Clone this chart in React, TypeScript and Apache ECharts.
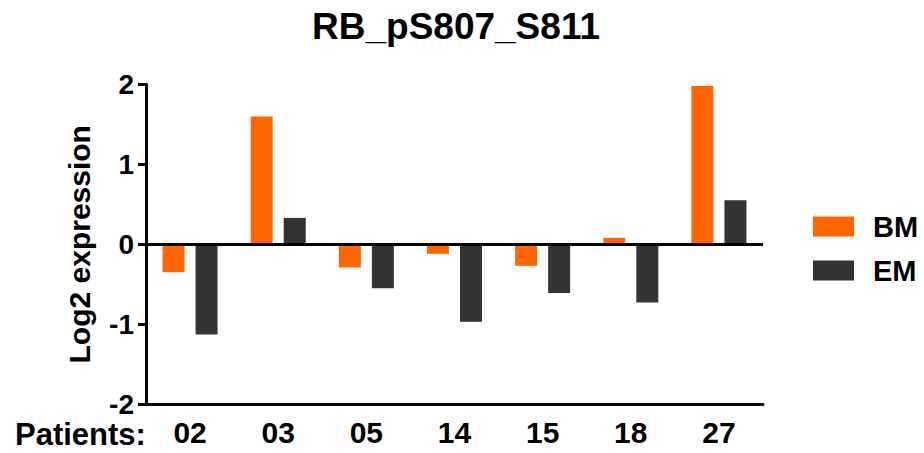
import React, { useEffect, useRef } from "react";
import * as echarts from "echarts";

const categories = ["02", "03", "05", "14", "15", "18", "27"];
const bmValues = [-0.35, 1.6, -0.29, -0.12, -0.27, 0.08, 1.98];
const emValues = [-1.13, 0.33, -0.55, -0.97, -0.61, -0.73, 0.55];
const seriesNames = ["BM", "EM"];
const titleText = "RB_pS807_S811";
const yAxisName = "Log2 expression";
const xAxisPrefix = "Patients:";

const FONT = '"Liberation Sans", Arial, sans-serif';

export default function App() {
  const ref = useRef<HTMLDivElement>(null);
  useEffect(() => {
    if (!ref.current) return;
    const chart = echarts.init(ref.current, undefined, { renderer: "svg" });
    chart.setOption({
      animation: false,
      backgroundColor: "#ffffff",
      textStyle: { fontFamily: FONT },
      title: {
        text: titleText,
        left: 451,
        top: 3,
        textAlign: "center",
        textStyle: { fontFamily: FONT, fontWeight: "bold", fontSize: 37, color: "#000" },
      },
      legend: {
        orient: "vertical",
        left: 808,
        top: 207,
        itemWidth: 41,
        itemHeight: 20,
        itemGap: 15,
        icon: "rect",
        data: seriesNames,
        textStyle: { fontFamily: FONT, fontWeight: "bold", fontSize: 29, color: "#000", padding: [0, 0, 0, 14] },
      },
      grid: { left: 146, right: 161, top: 84.5, bottom: 49 },
      xAxis: {
        type: "category",
        data: categories,
        boundaryGap: true,
        axisLine: { onZero: false, lineStyle: { color: "#000", width: 3 } },
        axisTick: { alignWithLabel: true, length: 8, lineStyle: { color: "#000", width: 3 } },
        axisLabel: { margin: 13, fontFamily: FONT, fontWeight: "bold", fontSize: 30, color: "#000" },
        splitLine: { show: false },
      },
      yAxis: {
        type: "value",
        min: -2,
        max: 2,
        interval: 1,
        name: yAxisName,
        nameLocation: "middle",
        nameRotate: 90,
        nameGap: 52,
        nameTextStyle: { fontFamily: FONT, fontWeight: "bold", fontSize: 30, color: "#000" },
        axisLine: { show: true, lineStyle: { color: "#000", width: 3 } },
        axisTick: { show: true, length: 8, lineStyle: { color: "#000", width: 3 } },
        axisLabel: { margin: 12, fontFamily: FONT, fontWeight: "bold", fontSize: 28, color: "#000" },
        splitLine: { show: false },
      },
      graphic: [
        {
          type: "text",
          left: 15,
          top: 419,
          style: { text: xAxisPrefix, fontFamily: FONT, fontWeight: "bold", fontSize: 31, fill: "#000" },
        },
      ],
      series: [
        {
          name: seriesNames[0],
          type: "bar",
          data: bmValues,
          barWidth: 22,
          barGap: "50%",
          itemStyle: { color: "#FF6600" },
          markLine: {
            silent: true,
            symbol: ["none", "none"],
            label: { show: false },
            lineStyle: { color: "#000", width: 3, type: "solid" },
            data: [{ yAxis: 0 }],
          },
        },
        {
          name: seriesNames[1],
          type: "bar",
          data: emValues,
          barWidth: 22,
          barGap: "50%",
          itemStyle: { color: "#333333" },
        },
      ],
    });
    return () => chart.dispose();
  }, []);
  return (
    <div
      ref={ref}
      style={{ position: "fixed", left: 0, top: 0, width: 924, height: 453, background: "#fff" }}
    />
  );
}
